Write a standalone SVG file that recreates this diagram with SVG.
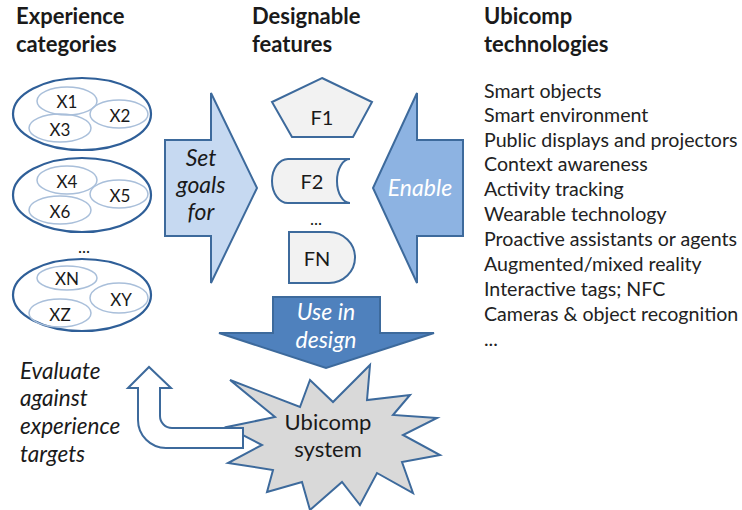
<svg xmlns="http://www.w3.org/2000/svg" width="742" height="510" viewBox="0 0 742 510">
<style>
text{font-family:Lato,"Open Sans","Liberation Sans",sans-serif;fill:#1a1a1a}
.h{font-weight:bold;font-size:22px}
.li{font-size:19.6px;fill:#222}
.x{font-size:17px;text-anchor:middle;dominant-baseline:central}
.f{font-size:20px;text-anchor:middle;dominant-baseline:central}
.it{font-style:italic;font-size:23px;text-anchor:middle;dominant-baseline:central}
.ev{font-style:italic;font-size:22.5px}
.w{fill:#ffffff}
.outer{fill:#ffffff;stroke:#2f5f98;stroke-width:2.2}
.inner{fill:none;stroke:#a9bfda;stroke-width:1.5}
.feat{fill:#f2f2f2;stroke:#3d6a9c;stroke-width:2}
.arr{stroke:#3d6a9c;stroke-width:2;stroke-linejoin:miter}
</style>

<g id="headers">
<text class="h" x="16" y="24">Experience</text>
<text class="h" x="16" y="52">categories</text>
<text class="h" x="252" y="24">Designable</text>
<text class="h" x="252" y="52">features</text>
<text class="h" x="484" y="24">Ubicomp</text>
<text class="h" x="484" y="52">technologies</text>
</g>

<g id="group1">
<ellipse class="outer" cx="82" cy="114" rx="69" ry="36"/>
<ellipse class="inner" cx="67" cy="101" rx="30" ry="14"/>
<ellipse class="inner" cx="119" cy="114" rx="29" ry="14"/>
<ellipse class="inner" cx="60" cy="128" rx="31" ry="14"/>
<text class="x" x="67" y="101">X1</text>
<text class="x" x="120" y="115">X2</text>
<text class="x" x="60" y="129">X3</text>
</g>
<g id="group2">
<ellipse class="outer" cx="82" cy="195" rx="69" ry="37"/>
<ellipse class="inner" cx="67" cy="180" rx="30" ry="14"/>
<ellipse class="inner" cx="119" cy="194" rx="29" ry="14"/>
<ellipse class="inner" cx="60" cy="210" rx="31" ry="14"/>
<text class="x" x="67" y="181">X4</text>
<text class="x" x="120" y="195">X5</text>
<text class="x" x="60" y="211">X6</text>
</g>
<g id="dots1"><text class="x" x="84" y="246">...</text></g>
<g id="group3">
<ellipse class="outer" cx="82" cy="295" rx="69" ry="36"/>
<ellipse class="inner" cx="67" cy="278" rx="30" ry="12"/>
<ellipse class="inner" cx="119" cy="298" rx="29" ry="15"/>
<ellipse class="inner" cx="60" cy="313" rx="31" ry="14"/>
<text class="x" x="67" y="278">XN</text>
<text class="x" x="121" y="299">XY</text>
<text class="x" x="60" y="314">XZ</text>
</g>

<g id="setgoals">
<polygon class="arr" fill="#c6d9f1" points="165,140 211,140 211,93 257,188 211,283 211,236 165,236"/>
<text class="it" x="201" y="157">Set</text>
<text class="it" x="201" y="184">goals</text>
<text class="it" x="201" y="211">for</text>
</g>

<g id="enable">
<polygon class="arr" fill="#8db3e2" points="463,140 417,140 417,93 373,188 417,283 417,236 463,236"/>
<text class="it w" x="420" y="187">Enable</text>
</g>

<g id="F1">
<polygon class="feat" points="322,78 372,102 353,137 292,137 272,102"/>
<text class="f" x="322" y="117">F1</text>
</g>
<g id="F2">
<path class="feat" d="M350,159 L288,159 A16,22 0 0 0 288,203 L350,203 A13,22 0 0 1 350,159 Z"/>
<text class="f" x="312" y="181">F2</text>
</g>
<g id="dots2"><text class="x" x="316" y="218">...</text></g>
<g id="FN">
<path class="feat" d="M289,232 L329,232 A26,25.5 0 0 1 329,283 L289,283 Z"/>
<text class="f" x="317" y="258">FN</text>
</g>

<g id="usedesign">
<polygon class="arr" fill="#4f81bd" points="273,297 380,297 380,333 434,333 326,368 219,333 273,333"/>
<text class="it w" x="326" y="311">Use in</text>
<text class="it w" x="326" y="339">design</text>
</g>

<g id="ubicomp">
<polygon fill="#d9d9d9" stroke="#3d6a9c" stroke-width="2" stroke-linejoin="miter" points="230,380 300,407 310,380 333,402 370,365 367,400 410,395 393,415 437,418 403,435 440,455 402,462 413,493 377,473 360,505 342,482 310,510 302,482 267,492 273,470 228,463 262,445 227,427 275,417"/>
<text x="328" y="421" style="font-size:22px;text-anchor:middle;dominant-baseline:central">Ubicomp</text>
<text x="328" y="448" style="font-size:22px;text-anchor:middle;dominant-baseline:central">system</text>
</g>

<g id="connectors">
<path fill="#ffffff" stroke="#3d6a9c" stroke-width="2" stroke-linejoin="miter" d="M243,428 L172,428 A12,12 0 0 1 160,416 L160,388 L171,388 L149,367 L128,388 L138,388 L138,420 A28,28 0 0 0 166,448 L243,448 Z"/>
</g>

<g id="evaluate">
<text class="ev" x="20" y="379">Evaluate</text>
<text class="ev" x="20" y="406">against</text>
<text class="ev" x="20" y="434">experience</text>
<text class="ev" x="20" y="462">targets</text>
</g>

<g id="techlist">
<text class="li" x="484" y="98">Smart objects</text>
<text class="li" x="484" y="122">Smart environment</text>
<text class="li" x="484" y="147">Public displays and projectors</text>
<text class="li" x="484" y="171">Context awareness</text>
<text class="li" x="484" y="196">Activity tracking</text>
<text class="li" x="484" y="221">Wearable technology</text>
<text class="li" x="484" y="246">Proactive assistants or agents</text>
<text class="li" x="484" y="271">Augmented/mixed reality</text>
<text class="li" x="484" y="296">Interactive tags; NFC</text>
<text class="li" x="484" y="321">Cameras &amp; object recognition</text>
<text class="li" x="484" y="346">...</text>
</g>
</svg>
